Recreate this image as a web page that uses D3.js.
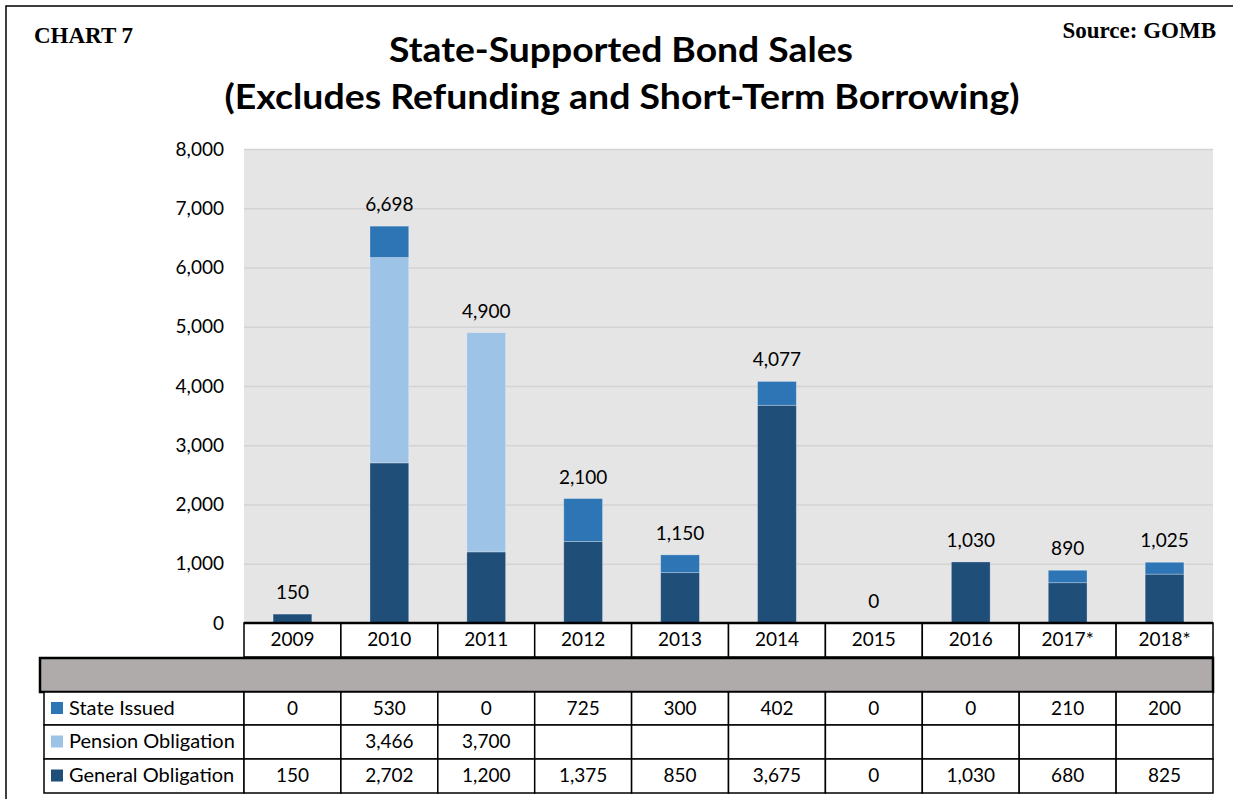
<!DOCTYPE html>
<html>
<head>
<meta charset="utf-8">
<script src="https://cdn.jsdelivr.net/npm/d3@7"></script>
<style>
  body { margin: 0; background: #fff; }
  svg { display: block; }
</style>
</head>
<body>
<div id="chart"></div>
<script>
// chart data
var years = ["2009", "2010", "2011", "2012", "2013", "2014", "2015", "2016", "2017*", "2018*"];
var stateIssued = [0, 530, 0, 725, 300, 402, 0, 0, 210, 200];
var pensionObligation = [null, 3466, 3700, null, null, null, null, null, null, null];
var generalObligation = [150, 2702, 1200, 1375, 850, 3675, 0, 1030, 680, 825];
var yTicks = [0, 1000, 2000, 3000, 4000, 5000, 6000, 7000, 8000];

var seriesNames = ["State Issued", "Pension Obligation", "General Obligation"];
var seriesColors = { "General Obligation": "#1f4e79", "Pension Obligation": "#9dc3e6", "State Issued": "#2e75b6" };

var W = 1233, H = 799;
var plotLeft = 244, plotRight = 1213, plotTop = 149, plotBottom = 623;
var fmt = d3.format(",");
var sans = "Lato, 'Open Sans', sans-serif";

var svg = d3.select("#chart").append("svg")
    .attr("width", W)
    .attr("height", H);

// outer frame (only top and left show in the picture)
svg.append("rect")
    .attr("x", 6).attr("y", 6)
    .attr("width", W + 20).attr("height", H + 20)
    .attr("fill", "none")
    .attr("stroke", "#000")
    .attr("stroke-width", 1.5);

// build rows for stacking
var rows = years.map(function(y, i) {
    return {
        year: y,
        "General Obligation": generalObligation[i] || 0,
        "Pension Obligation": pensionObligation[i] || 0,
        "State Issued": stateIssued[i] || 0
    };
});
function total(d) { return d["General Obligation"] + d["Pension Obligation"] + d["State Issued"]; }

var x = d3.scaleBand().domain(years).range([plotLeft, plotRight]).padding(0);
var y = d3.scaleLinear().domain([0, 8000]).range([plotBottom, plotTop]);
var barW = x.bandwidth() * 0.4;

// plot background
svg.append("rect")
    .attr("x", plotLeft).attr("y", plotTop)
    .attr("width", plotRight - plotLeft).attr("height", plotBottom - plotTop)
    .attr("fill", "#e5e5e5");

// gridlines
var grid = svg.append("g")
    .attr("transform", "translate(" + plotLeft + ",0)")
    .call(d3.axisLeft(y).tickValues(yTicks).tickSize(-(plotRight - plotLeft)).tickFormat(""));
grid.select(".domain").remove();
grid.selectAll("line").attr("stroke", "#d3d3d3").attr("stroke-width", 1.5);

// y axis labels
var yAxis = svg.append("g")
    .attr("transform", "translate(" + plotLeft + ",0)")
    .call(d3.axisLeft(y).tickValues(yTicks).tickSize(0).tickPadding(20).tickFormat(fmt));
yAxis.select(".domain").remove();
yAxis.selectAll("text")
    .style("font-family", sans)
    .style("font-size", "19px")
    .attr("fill", "#000");

// stacked bars
var stack = d3.stack().keys(["General Obligation", "Pension Obligation", "State Issued"]);
var layers = stack(rows);

svg.append("g").selectAll("g")
    .data(layers)
    .join("g")
    .attr("fill", function(d) { return seriesColors[d.key]; })
    .selectAll("rect")
    .data(function(d) { return d; })
    .join("rect")
    .attr("x", function(d) { return x(d.data.year) + (x.bandwidth() - barW) / 2; })
    .attr("y", function(d) { return y(d[1]); })
    .attr("width", barW)
    .attr("height", function(d) { return y(d[0]) - y(d[1]); })
    .attr("stroke", "#ffffff")
    .attr("stroke-opacity", 0.35)
    .attr("stroke-width", 0.8);

// totals above bars
svg.append("g").selectAll("text")
    .data(rows)
    .join("text")
    .attr("x", function(d) { return x(d.year) + x.bandwidth() / 2; })
    .attr("y", function(d) { return y(total(d)) - 15; })
    .attr("text-anchor", "middle")
    .style("font-family", sans)
    .style("font-size", "19px")
    .attr("fill", "#000")
    .text(function(d) { return fmt(total(d)); });

// titles
svg.append("text")
    .attr("x", 34).attr("y", 43)
    .style("font-family", "'Liberation Serif', 'Times New Roman', serif")
    .style("font-weight", "bold")
    .style("font-size", "23px")
    .text("CHART 7");

svg.append("text")
    .attr("x", 1216).attr("y", 38)
    .attr("text-anchor", "end")
    .style("font-family", "'Liberation Serif', 'Times New Roman', serif")
    .style("font-weight", "bold")
    .style("font-size", "23px")
    .text("Source: GOMB");

svg.append("text")
    .attr("x", 621).attr("y", 62)
    .attr("text-anchor", "middle")
    .attr("textLength", 464)
    .attr("lengthAdjust", "spacingAndGlyphs")
    .style("font-family", sans)
    .style("font-weight", "bold")
    .style("font-size", "34px")
    .text("State-Supported Bond Sales");

svg.append("text")
    .attr("x", 622).attr("y", 109)
    .attr("text-anchor", "middle")
    .attr("textLength", 795)
    .attr("lengthAdjust", "spacingAndGlyphs")
    .style("font-family", sans)
    .style("font-weight", "bold")
    .style("font-size", "34px")
    .text("(Excludes Refunding and Short-Term Borrowing)");

// data table
var table = svg.append("g");
var headTop = 623, headBot = 657;
var bandTop = 658, bandBot = 692;
var rowEdges = [692, 725, 759, 793];
var firstCol = 44;

// year header row
years.forEach(function(yr) {
    table.append("rect")
        .attr("x", x(yr)).attr("y", headTop)
        .attr("width", x.bandwidth()).attr("height", headBot - headTop)
        .attr("fill", "#fff")
        .attr("stroke", "#000")
        .attr("stroke-width", 1.5);
    table.append("text")
        .attr("x", x(yr) + x.bandwidth() / 2)
        .attr("y", headTop + 23)
        .attr("text-anchor", "middle")
        .style("font-family", sans)
        .style("font-size", "19px")
        .text(yr);
});
table.append("line")
    .attr("x1", plotLeft).attr("x2", plotRight)
    .attr("y1", headTop).attr("y2", headTop)
    .attr("stroke", "#000").attr("stroke-width", 2.5);

// gray band
table.append("rect")
    .attr("x", 40).attr("y", bandTop)
    .attr("width", plotRight - 40).attr("height", bandBot - bandTop)
    .attr("fill", "#afabab")
    .attr("stroke", "#000")
    .attr("stroke-width", 2.5);

// series rows
var seriesValues = [stateIssued, pensionObligation, generalObligation];
seriesNames.forEach(function(name, r) {
    var y0 = rowEdges[r], y1 = rowEdges[r + 1];
    table.append("rect")
        .attr("x", firstCol).attr("y", y0)
        .attr("width", plotLeft - firstCol).attr("height", y1 - y0)
        .attr("fill", "#fff")
        .attr("stroke", "#000")
        .attr("stroke-width", 1.5);
    table.append("rect")
        .attr("x", 51).attr("y", (y0 + y1) / 2 - 6.5)
        .attr("width", 12).attr("height", 12)
        .attr("fill", seriesColors[name]);
    table.append("text")
        .attr("x", 69).attr("y", y0 + 23)
        .style("font-family", sans)
        .style("font-size", "20px")
        .text(name);
    years.forEach(function(yr, i) {
        table.append("rect")
            .attr("x", x(yr)).attr("y", y0)
            .attr("width", x.bandwidth()).attr("height", y1 - y0)
            .attr("fill", "#fff")
            .attr("stroke", "#000")
            .attr("stroke-width", 1.5);
        var v = seriesValues[r][i];
        if (v !== null) {
            table.append("text")
                .attr("x", x(yr) + x.bandwidth() / 2)
                .attr("y", y0 + 23)
                .attr("text-anchor", "middle")
                .style("font-family", sans)
                .style("font-size", "19px")
                .text(fmt(v));
        }
    });
});
</script>
</body>
</html>
